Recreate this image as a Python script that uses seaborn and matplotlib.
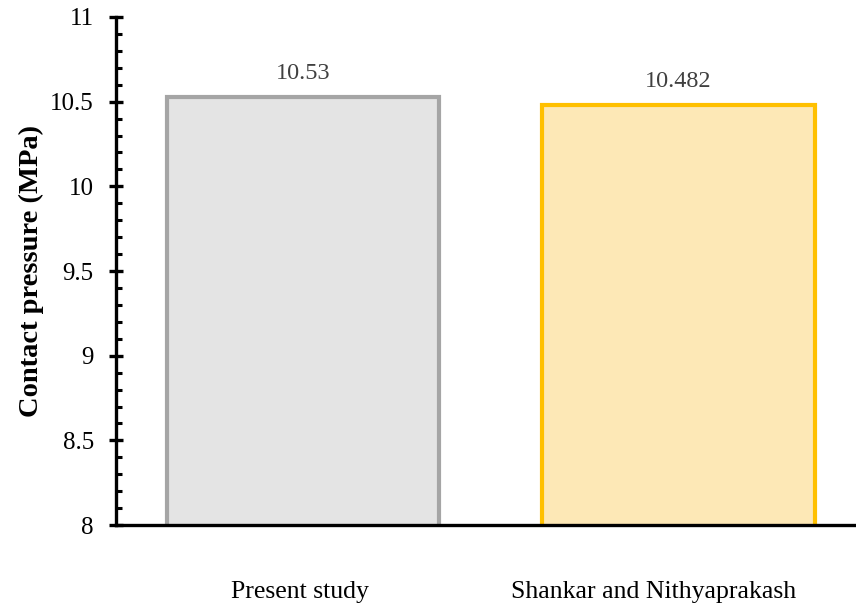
import pandas as pd
import seaborn as sns
import matplotlib.pyplot as plt
from matplotlib.ticker import FuncFormatter, MultipleLocator
from matplotlib.transforms import ScaledTranslation

# Chart data
studies = ['Present study', 'Shankar and Nithyaprakash']
pressure = [10.53, 10.482]
value_labels = ['10.53', '10.482']
fill_colors = ['#e4e4e4', '#fde8b6']
edge_colors = ['#a5a5a5', '#ffc000']

df = pd.DataFrame({'study': studies, 'pressure': pressure})

sns.set_style('ticks')
plt.rcParams['font.family'] = ['Liberation Serif', 'DejaVu Serif']
plt.rcParams['text.color'] = 'black'
plt.rcParams['axes.labelcolor'] = 'black'
plt.rcParams['xtick.color'] = 'black'
plt.rcParams['ytick.color'] = 'black'

fig = plt.figure(figsize=(8.56, 6.07), dpi=100)
ax = fig.add_axes([0.1355, 0.135, 0.8645, 0.837])

sns.barplot(data=df, x='study', y='pressure', hue='study', palette=fill_colors,
            saturation=1, width=0.725, legend=False, ax=ax)

for patch, ec in zip(ax.patches, edge_colors):
    patch.set_edgecolor(ec)
    patch.set_linewidth(3)

for i, (val, lab) in enumerate(zip(pressure, value_labels)):
    ax.annotate(lab, (i, val), textcoords='offset points', xytext=(0, 9),
                ha='center', va='bottom', fontsize=17.5, color='#404040')

ax.set_ylim(8, 11)
ax.set_xlim(-0.498, 1.473)
ax.yaxis.set_major_locator(MultipleLocator(0.5))
ax.yaxis.set_minor_locator(MultipleLocator(0.1))
ax.yaxis.set_major_formatter(FuncFormatter(lambda v, pos: f'{v:g}'))

ax.set_ylabel('Contact pressure (MPa)', fontsize=20.5, weight='bold', labelpad=4)
ax.set_xlabel('')

ax.spines['top'].set_visible(False)
ax.spines['right'].set_visible(False)
for side in ['left', 'bottom']:
    ax.spines[side].set_linewidth(2.4)
    ax.spines[side].set_color('black')

ax.tick_params(axis='y', which='major', direction='inout', length=10, width=2.4,
               labelsize=18, pad=11)
ax.tick_params(axis='y', which='minor', direction='in', length=4, width=2.2)
ax.tick_params(axis='x', length=0, labelsize=18.5, pad=40)

# category labels sit a bit left of the bar centres in the original
shifts = [-3, -25]
for lbl, dx in zip(ax.get_xticklabels(), shifts):
    lbl.set_transform(lbl.get_transform() + ScaledTranslation(dx / 100, 0, fig.dpi_scale_trans))

plt.savefig('out.png', dpi=100)
